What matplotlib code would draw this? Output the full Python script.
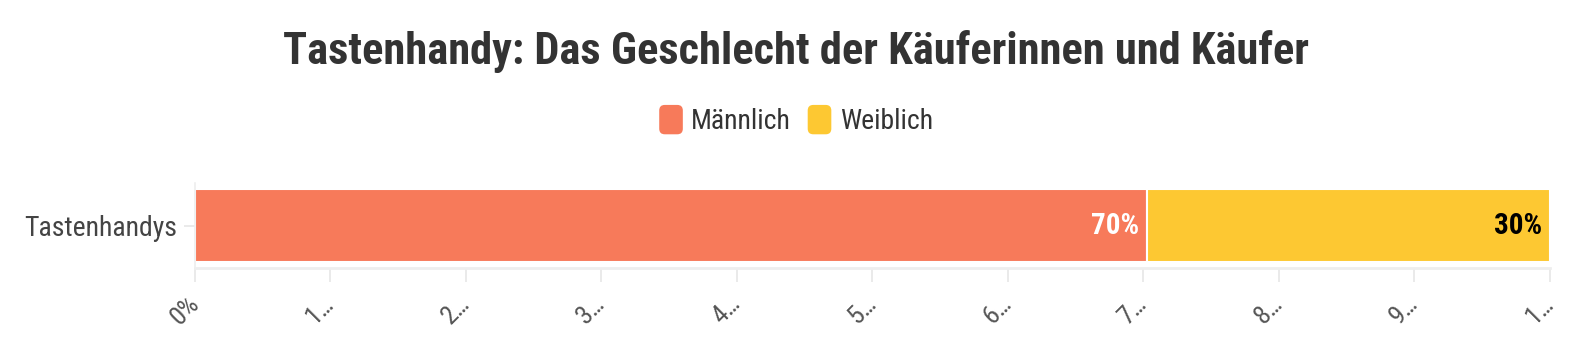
import matplotlib
matplotlib.use('Agg')
import matplotlib.pyplot as plt
from matplotlib import font_manager
from matplotlib.patches import FancyBboxPatch, Patch
from matplotlib.legend_handler import HandlerPatch

categories = ['Tastenhandys']
series_names = ['Männlich', 'Weiblich']
values = [70.3, 29.7]
colors = ['#F77A5A', '#FDC832']
label_colors = ['white', 'black']
tick_values = [0, 10, 20, 30, 40, 50, 60, 70, 80, 90, 100]
tick_labels = ['0%', '1…', '2…', '3…', '4…', '5…', '6…', '7…', '8…', '9…', '1…']

names = {f.name for f in font_manager.fontManager.ttflist}
family = 'Roboto Condensed' if 'Roboto Condensed' in names else 'Roboto'
plt.rcParams['font.family'] = [family, 'DejaVu Sans']


class RoundHandler(HandlerPatch):
    def create_artists(self, legend, orig_handle, xdescent, ydescent,
                       width, height, fontsize, trans):
        r = 4
        p = FancyBboxPatch((-xdescent + r, -ydescent + r), width - 2 * r, height - 2 * r,
                           boxstyle='round,pad=%g' % r,
                           facecolor=orig_handle.get_facecolor(), edgecolor='none',
                           transform=trans)
        return [p]


fig = plt.figure(figsize=(15.92, 3.58), dpi=100)
ax = fig.add_axes([0.1225, 0.2514, 0.851, 0.2374])

left = 0
for name, val, col, lcol in zip(series_names, values, colors, label_colors):
    ax.barh(0, val, left=left, height=0.86, color=col, edgecolor='white',
            linewidth=1.5, label=name)
    ax.text(left + val - 0.6, 0, '%.0f%%' % val, ha='right', va='center',
            color=lcol, fontsize=21, fontweight='bold')
    left += val

ax.set_xlim(0, 100)
ax.set_ylim(-0.5, 0.5)
ax.set_yticks([0])
ax.set_yticklabels(categories, fontsize=20, color='#444444')
ax.set_xticks(tick_values)
ax.set_xticklabels(tick_labels, fontsize=19, color='#555555',
                   rotation=45, ha='right', va='center', rotation_mode='anchor')
ax.tick_params(axis='x', length=10, color='#e6e6e6', width=1.2, pad=13)
ax.tick_params(axis='y', length=8, color='#e6e6e6', width=1.2, pad=5)
for s in ['top', 'right']:
    ax.spines[s].set_visible(False)
ax.spines['bottom'].set_color('#eeeeee')
ax.spines['bottom'].set_linewidth(2)
ax.spines['left'].set_color('#eeeeee')
ax.spines['left'].set_linewidth(1.2)

fig.text(0.5, 0.857, 'Tastenhandy: Das Geschlecht der Käuferinnen und Käufer',
         ha='center', va='center', fontsize=32, fontweight='bold',
         color='#333333')

handles = [Patch(facecolor=c) for c in colors]
leg = fig.legend(handles, series_names, loc='center', bbox_to_anchor=(0.5, 0.665),
                 ncol=2, frameon=False, fontsize=20,
                 handlelength=0.85, handleheight=1.25, handletextpad=0.3,
                 columnspacing=0.6, labelcolor='#333333',
                 handler_map={Patch: RoundHandler()})

fig.savefig('out.png', dpi=100)
